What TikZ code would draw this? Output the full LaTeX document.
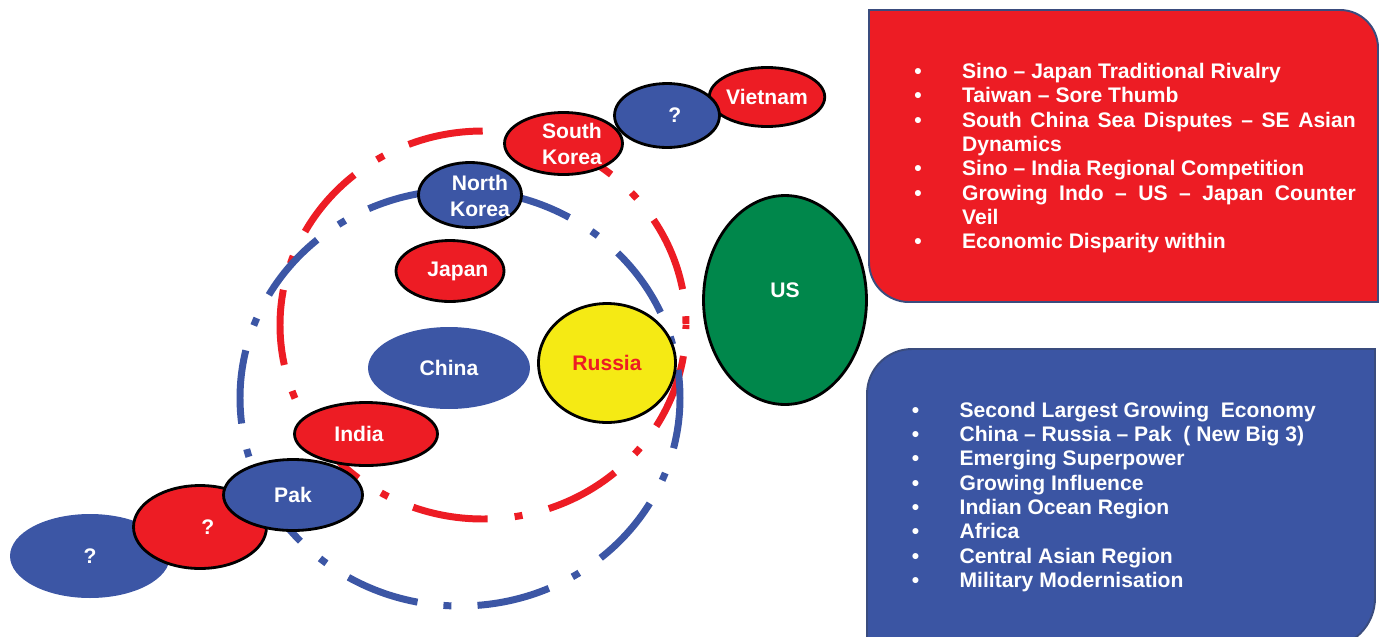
\documentclass[tikz,border=0pt]{standalone}
\usepackage{fontspec}
\setmainfont{Liberation Sans}
\usetikzlibrary{shapes.geometric}
\definecolor{cred}{HTML}{ED1C24}
\definecolor{cblue}{HTML}{3C56A5}
\definecolor{cgreen}{HTML}{00874B}
\definecolor{cyellow}{HTML}{F5EA14}
\definecolor{cedge}{HTML}{3A4C7E}
\definecolor{bluebox}{HTML}{3B55A3}
\newcommand\bul{\makebox[27.2pt][l]{•}}
\newcommand\contline{\hspace*{27.2pt}}
% label shifted right by half of #1
\newcommand\lab[2]{\makebox[0pt]{\hspace*{#1}#2}}
\newcommand\twolab[3]{\makebox[0pt]{\hspace*{#1}\raisebox{-4.9pt}[0pt][0pt]{\begin{tabular}{@{}c@{}}#2\\[0.6pt]#3\end{tabular}}}}
\begin{document}
\begin{tikzpicture}[x=0.02cm,y=-0.02cm,
  country/.style={ellipse, inner sep=0pt, outer sep=0pt, draw=black, line width=1.6pt, text=white, font=\fontsize{12}{14.2}\selectfont\bfseries, align=center},
  plain/.style={country, draw=none},
  redring/.style={draw=cred, line width=3.97pt, dash pattern=on 4.54pt off 15.48pt on 43.09pt off 15.48pt, dash phase=2.27pt},
  bluering/.style={draw=cblue, line width=3.97pt, dash pattern=on 41.95pt off 14.88pt on 4.54pt off 14.88pt, dash phase=13.04pt},
  boxtext/.style={anchor=base west, inner sep=0pt, text=white, font=\fontsize{12}{13.85}\selectfont\bfseries},
  boxedge/.style={draw=cedge, line width=1.1pt}
]
\useasboundingbox (0,0) rectangle (1381,636);
\clip (0,0) rectangle (1381,636);

% boxes
\path[boxedge, fill=cred] (869,10) -- (1340,10) arc[start angle=-90,end angle=0,radius=38] -- (1378,302) -- (909,302) arc[start angle=90,end angle=180,radius=40] -- cycle;
\path[boxedge, fill=bluebox] (867,648) -- (867,394) arc[start angle=180,end angle=270,radius=45] -- (1375,349) -- (1375,598) arc[start angle=0,end angle=90,radius=50] -- cycle;

% rings (behind the countries)
\draw[redring] (483,325) ellipse [x radius=203, y radius=194];
\draw[bluering] (460,398) ellipse [x radius=220, y radius=208];

% countries
\node[plain, fill=cblue, minimum width=3.2cm, minimum height=1.68cm] (q1) at (90,556) {?};
\node[country, fill=cred, minimum width=2.66cm, minimum height=1.66cm] (q2) at (200,527) {\lab{9pt}{?}};
\node[country, fill=cred, minimum width=2.86cm, minimum height=1.26cm] (india) at (366,434) {\lab{-7.9pt}{India}};
\node[country, fill=cblue, minimum width=2.78cm, minimum height=1.42cm] (pak) at (293,495) {Pak};
\node[plain, fill=cblue, minimum width=3.24cm, minimum height=1.64cm] (china) at (449,368) {China};
\node[country, fill=cyellow, text=cred, minimum width=2.74cm, minimum height=2.38cm] (russia) at (607,363) {Russia};
\node[country, fill=cred, minimum width=2.16cm, minimum height=1.22cm] (japan) at (450,271) {\lab{9pt}{Japan}};
\node[country, fill=cblue, minimum width=2.06cm, minimum height=1.30cm] (nkorea) at (470,195) {\twolab{11.3pt}{North}{Korea}};
\node[country, fill=cred, minimum width=2.36cm, minimum height=1.24cm] (skorea) at (563.5,143.5) {\twolab{9.6pt}{South}{Korea}};
\node[country, fill=cred, minimum width=2.14cm, minimum height=1.18cm] (vietnam) at (767,97) {Vietnam};
\node[country, fill=cblue, minimum width=2.10cm, minimum height=1.28cm] (q3) at (667,115.5) {\lab{9pt}{?}};
\node[country, fill=cgreen, minimum width=3.26cm, minimum height=4.18cm] (us) at (785,300) {\raisebox{1.4pt}[0pt][0pt]{US}};

% lists
\node[boxtext] (redlist) at (914,78.5) {\parbox[t]{260pt}{\parindent=0pt
\bul Sino – Japan Traditional Rivalry\\
\bul Taiwan – Sore Thumb\\
\bul \makebox[224pt][s]{South China Sea Disputes – SE Asian}\\
\contline Dynamics\\
\bul Sino – India Regional Competition\\
\bul \makebox[224pt][s]{Growing Indo – US – Japan Counter}\\
\contline Veil\\
\bul Economic Disparity within}};

\node[boxtext] (bluelist) at (911.5,417.3) {\parbox[t]{260pt}{\parindent=0pt
\bul Second Largest Growing\ \ Economy\\
\bul China – Russia – Pak\ \ ( New Big 3)\\
\bul Emerging Superpower\\
\bul Growing Influence\\
\bul Indian Ocean Region\\
\bul Africa\\
\bul Central Asian Region\\
\bul Military Modernisation}};
\end{tikzpicture}
\end{document}
